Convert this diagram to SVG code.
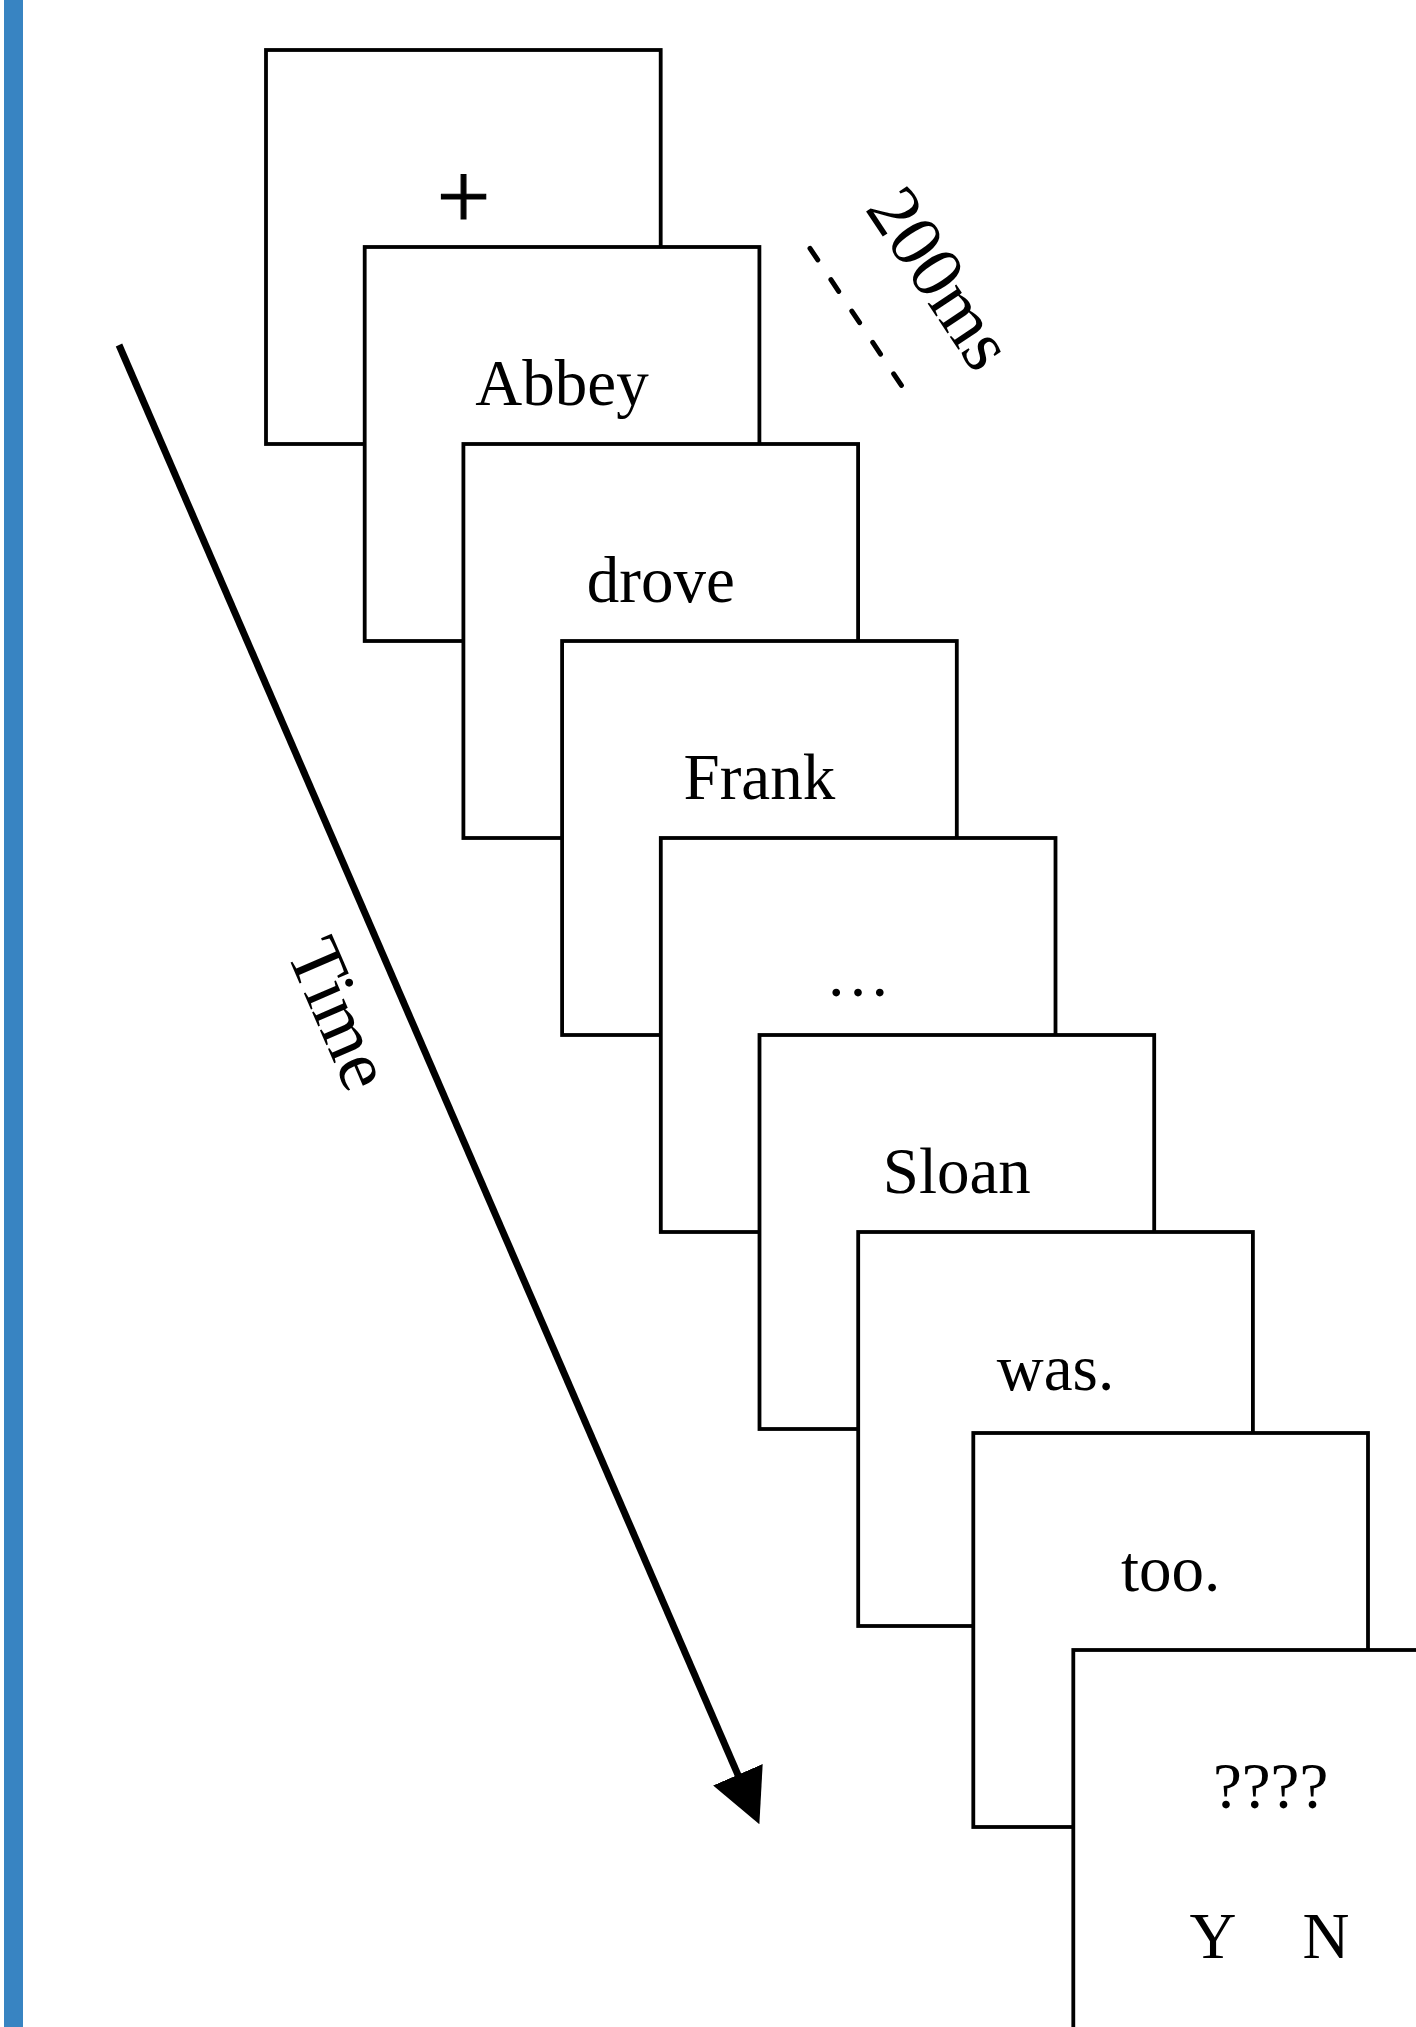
<svg xmlns="http://www.w3.org/2000/svg" width="1416" height="2027" viewBox="0 0 1416 2027">
<style>
.box{fill:#ffffff;stroke:#000000;stroke-width:3.8}
.lbl{font-family:"Liberation Serif","Times New Roman",serif;font-size:65px;fill:#000000;text-anchor:middle}
.rot{font-family:"Liberation Serif","Times New Roman",serif;font-size:75px;fill:#000000;text-anchor:middle}
</style>
<defs>
<marker id="ah" viewBox="0 0 54 54" markerWidth="54" markerHeight="54" markerUnits="userSpaceOnUse" refX="5" refY="27" orient="auto">
<path d="M0 0 L54 27 L0 54 Z" fill="#000000"/>
</marker>
</defs>
<rect width="1416" height="2027" fill="#ffffff"/>
<rect id="sidebar" x="4" y="0" width="19" height="2027" fill="#3884c2"/>
<g id="connectors">
<line id="time-arrow" x1="119" y1="345" x2="739.9" y2="1779.3" stroke="#000000" stroke-width="7" marker-end="url(#ah)"/>
<line id="duration-mark" x1="810" y1="248.3" x2="901.6" y2="385.7" stroke="#000000" stroke-width="5" stroke-linecap="round" stroke-dasharray="14 23.7"/>
</g>
<g id="label-time" transform="translate(339,1014) rotate(66.6)"><text class="rot" x="0" y="24">Time</text></g>
<g id="label-200ms" transform="translate(940.5,278) rotate(56.3)"><text class="rot" x="0" y="25">200ms</text></g>
<g id="frame-fixation"><rect class="box" x="266" y="50" width="394.7" height="394"/><text x="463.5" y="228" stroke="#000000" stroke-width="1.2" style="font-family:'Liberation Serif','Times New Roman',serif;font-size:95px;text-anchor:middle">+</text></g>
<g id="frame-abbey"><rect class="box" x="364.7" y="247" width="394.7" height="394"/><text class="lbl" x="562" y="405">Abbey</text></g>
<g id="frame-drove"><rect class="box" x="463.4" y="444" width="394.7" height="394"/><text class="lbl" x="660.8" y="602">drove</text></g>
<g id="frame-frank"><rect class="box" x="562.1" y="641" width="394.7" height="394"/><text class="lbl" x="759.4" y="799">Frank</text></g>
<g id="frame-ellipsis"><rect class="box" x="660.8" y="838" width="394.7" height="394"/><text class="lbl" x="858.1" y="996">…</text></g>
<g id="frame-sloan"><rect class="box" x="759.5" y="1035" width="394.7" height="394"/><text class="lbl" x="956.8" y="1193">Sloan</text></g>
<g id="frame-was"><rect class="box" x="858.2" y="1232" width="394.7" height="394"/><text class="lbl" x="1055.5" y="1390">was.</text></g>
<g id="frame-too"><rect class="box" x="973.3" y="1433" width="394.7" height="394"/><text class="lbl" x="1170.6" y="1591">too.</text></g>
<g id="frame-question"><rect class="box" x="1073.3" y="1650" width="394.7" height="394"/><text class="lbl" x="1270.6" y="1808">????</text><text class="lbl" x="1213" y="1958">Y</text><text class="lbl" x="1326" y="1958">N</text></g>
</svg>
